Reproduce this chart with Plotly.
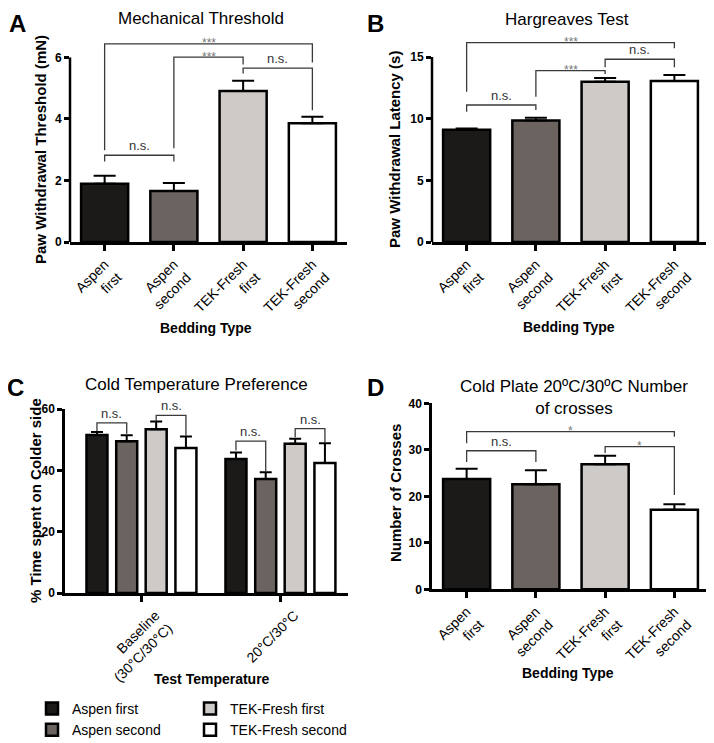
import plotly.graph_objects as go

# bedding groups (same order in every panel)
groups = ["Aspen first", "Aspen second", "TEK-Fresh first", "TEK-Fresh second"]
bedding_ticks = ["Aspen<br>first", "Aspen<br>second", "TEK-Fresh<br>first", "TEK-Fresh<br>second"]
bar_colors = ["#1c1a19", "#6b635f", "#cdcac8", "#ffffff"]

# A - mechanical threshold (mN)
mech_mean = [1.89, 1.66, 4.91, 3.86]
mech_sem = [0.26, 0.26, 0.33, 0.21]

# B - Hargreaves latency (s)
harg_mean = [9.1, 9.85, 13.0, 13.05]
harg_sem = [0.1, 0.22, 0.3, 0.5]

# C - % time on colder side, per group, [baseline, 20/30]
temp_ticks = ["Baseline<br>(30°C/30°C)", "20°C/30°C"]
pref_mean = [[51.5, 43.7], [49.5, 37.2], [53.4, 48.7], [47.3, 42.4]]
pref_sem = [[1.0, 2.1], [1.9, 2.2], [2.5, 1.6], [3.7, 6.4]]

# D - number of crosses
cross_mean = [23.7, 22.6, 26.9, 17.1]
cross_sem = [2.2, 3.0, 1.8, 1.2]

# significance brackets: (bar i, bar j, top, left leg end, right leg end, label)
mech_brackets = [(0, 3, 6.44, 2.98, 5.84, "***"), (1, 2, 6.01, 3.05, 5.77, "***"),
                 (2, 3, 5.65, 5.48, 4.28, "n.s."), (0, 1, 2.82, 2.62, 2.62, "n.s.")]
harg_brackets = [(0, 3, 16.16, 12.18, 15.71, "***"), (2, 3, 14.82, 14.17, 14.17, "n.s."),
                 (1, 2, 13.89, 11.78, 13.63, "***"), (0, 1, 11.11, 10.57, 10.7, "n.s.")]
cross_brackets = [(0, 3, 33.9, 31.4, 32.8, "*"), (0, 1, 29.8, 27.4, 27.4, "n.s."),
                  (2, 3, 30.7, 29.3, 20.3, "*")]
# (temperature index, bar i, bar j, top, left end, right end, label)
pref_brackets = [(0, 0, 1, 55.5, 52.8, 51.9, "n.s."), (0, 2, 3, 57.9, 55.9, 51.3, "n.s."),
                 (1, 0, 1, 49.5, 46.5, 39.4, "n.s."), (1, 2, 3, 53.6, 50.8, 48.9, "n.s.")]

FONT = "Arial, Liberation Sans, sans-serif"
# the page body keeps its default 8px margin, so the figure is drawn 8px in
PAD = 8
W, H = 714 - PAD, 743 - PAD

fig = go.Figure()


def px(x):
    return (x - PAD) / W


def py(y):
    return 1 - (y - PAD) / H


def add_bedding(mean, sem, xa, ya):
    fig.add_trace(go.Bar(
        x=list(range(len(groups))), y=mean, width=0.68,
        marker=dict(color=bar_colors, line=dict(color="black", width=2.5)),
        error_y=dict(type="data", array=sem, arrayminus=[0] * len(sem), symmetric=False,
                     color="black", thickness=2, width=11),
        xaxis=xa, yaxis=ya, showlegend=False, hoverinfo="skip"))


def add_bracket(x0, x1, top, yl, yr, label, xa, ya):
    fig.add_shape(type="path", path=f"M {x0},{yl} L {x0},{top} L {x1},{top} L {x1},{yr}",
                  xref=xa, yref=ya, line=dict(color="#3a3a3a", width=1.3))
    if label == "n.s.":
        fig.add_annotation(x=(x0 + x1) / 2, y=top, xref=xa, yref=ya, text=label, showarrow=False,
                           yanchor="bottom", yshift=0, font=dict(family=FONT, size=13, color="#333"))
    else:
        fig.add_annotation(x=(x0 + x1) / 2, y=top, xref=xa, yref=ya, text=label, showarrow=False,
                           yanchor="middle", yshift=1, height=9,
                           font=dict(family=FONT, size=12, color="#777"))


add_bedding(mech_mean, mech_sem, "x", "y")
add_bedding(harg_mean, harg_sem, "x2", "y2")
add_bedding(cross_mean, cross_sem, "x4", "y4")

# C - grouped bars with explicit offsets
bar_w = 0.151
centers = [-0.32, -0.106, 0.106, 0.32]
for k, g in enumerate(groups):
    fig.add_trace(go.Bar(
        x=[0, 1], y=pref_mean[k], width=bar_w, offset=centers[k] - bar_w / 2, name=g,
        marker=dict(color=bar_colors[k], line=dict(color="black", width=2.5)),
        error_y=dict(type="data", array=pref_sem[k], arrayminus=[0, 0], symmetric=False,
                     color="black", thickness=2, width=6),
        xaxis="x3", yaxis="y3", legend="legend" if k < 2 else "legend2", hoverinfo="skip"))

for b in mech_brackets:
    add_bracket(b[0], b[1], b[2], b[3], b[4], b[5], "x", "y")
for b in harg_brackets:
    add_bracket(b[0], b[1], b[2], b[3], b[4], b[5], "x2", "y2")
for b in cross_brackets:
    add_bracket(b[0], b[1], b[2], b[3], b[4], b[5], "x4", "y4")
for b in pref_brackets:
    add_bracket(b[0] + centers[b[1]], b[0] + centers[b[2]], b[3], b[4], b[5], b[6], "x3", "y3")

# y axis lines of A and B stop at the last tick
fig.add_shape(type="line", xref="x domain", yref="y", x0=0, x1=0, y0=0, y1=6,
              line=dict(color="black", width=2.5))
fig.add_shape(type="line", xref="x2 domain", yref="y2", x0=0, x1=0, y0=0, y1=15,
              line=dict(color="black", width=2.5))

ax = dict(linecolor="black", linewidth=2.5, ticks="outside", tickwidth=2.5,
          tickcolor="black", showgrid=False, zeroline=False, fixedrange=True)
xt = dict(tickfont=dict(family=FONT, size=14, color="black"), tickangle=-45, showline=True, ticklen=6)
yt = dict(tickfont=dict(family=FONT, size=12, color="black", weight="bold"), ticklen=5)
leg_font = dict(family=FONT, size=14, color="black")

fig.update_layout(
    xaxis=dict(**ax, **xt, domain=[px(70), px(347)], range=[-0.5, 3.5], anchor="y",
               tickvals=[0, 1, 2, 3], ticktext=bedding_ticks),
    yaxis=dict(**ax, **yt, domain=[py(242), py(39)], range=[0, 6.6], dtick=2, anchor="x",
               showline=False),
    xaxis2=dict(**ax, **xt, domain=[px(432), px(709)], range=[-0.5, 3.5], anchor="y2",
                tickvals=[0, 1, 2, 3], ticktext=bedding_ticks),
    yaxis2=dict(**ax, **yt, domain=[py(242), py(39)], range=[0, 16.46], dtick=5, anchor="x2",
                showline=False),
    xaxis3=dict(**ax, **xt, domain=[px(65), px(348)], range=[-0.55, 1.486], anchor="y3",
                tickvals=[0, 1], ticktext=temp_ticks, ticklabelshift=14),
    yaxis3=dict(**ax, **yt, domain=[py(593), py(409)], range=[0, 60], dtick=20, anchor="x3",
                showline=True),
    xaxis4=dict(**ax, **xt, domain=[px(432), px(709)], range=[-0.5, 3.5], anchor="y4",
                tickvals=[0, 1, 2, 3], ticktext=bedding_ticks),
    yaxis4=dict(**ax, **yt, domain=[py(589.3), py(403.3)], range=[0, 40], dtick=10, anchor="x4",
                showline=True),
    barmode="overlay",
    width=W, height=H,
    margin=dict(l=0, r=0, t=0, b=0, autoexpand=False),
    paper_bgcolor="white", plot_bgcolor="white",
    legend=dict(x=px(32), y=py(693), xanchor="left", yanchor="top", bgcolor="rgba(0,0,0,0)",
                font=leg_font, tracegroupgap=0),
    legend2=dict(x=px(190), y=py(693), xanchor="left", yanchor="top", bgcolor="rgba(0,0,0,0)",
                 font=leg_font, tracegroupgap=0),
)

# panel letters, titles and axis titles
texts = [
    ("A", 17, 23, 24, "bold", 0), ("B", 375, 23, 24, "bold", 0),
    ("C", 15, 387, 24, "bold", 0), ("D", 375, 387, 24, "bold", 0),
    ("Mechanical Threshold", 201, 19, 17, "normal", 0),
    ("Hargreaves Test", 567, 20, 17, "normal", 0),
    ("Cold Temperature Preference", 196, 384, 17, "normal", 0),
    ("Cold Plate 20ºC/30ºC Number<br>of crosses", 574, 397, 17, "normal", 0),
    ("Bedding Type", 206, 328, 14, "bold", 0), ("Bedding Type", 569, 327, 14, "bold", 0),
    ("Test Temperature", 212, 679, 14, "bold", 0), ("Bedding Type", 568, 673, 14, "bold", 0),
    ("Paw Withdrawal Threshold (mN)", 41, 150, 15, "bold", -90),
    ("Paw Withdrawal Latency (s)", 395, 150, 15, "bold", -90),
    ("% Time spent on Colder side", 35, 501, 15, "bold", -90),
    ("Number of Crosses", 396, 493, 15, "bold", -90),
]
for t, x, y, s, w, a in texts:
    fig.add_annotation(text=t, x=px(x), y=py(y), xref="paper", yref="paper", showarrow=False,
                       xanchor="center", yanchor="middle", textangle=a,
                       font=dict(family=FONT, size=s, color="black", weight=w))

fig.write_html("out.html")
